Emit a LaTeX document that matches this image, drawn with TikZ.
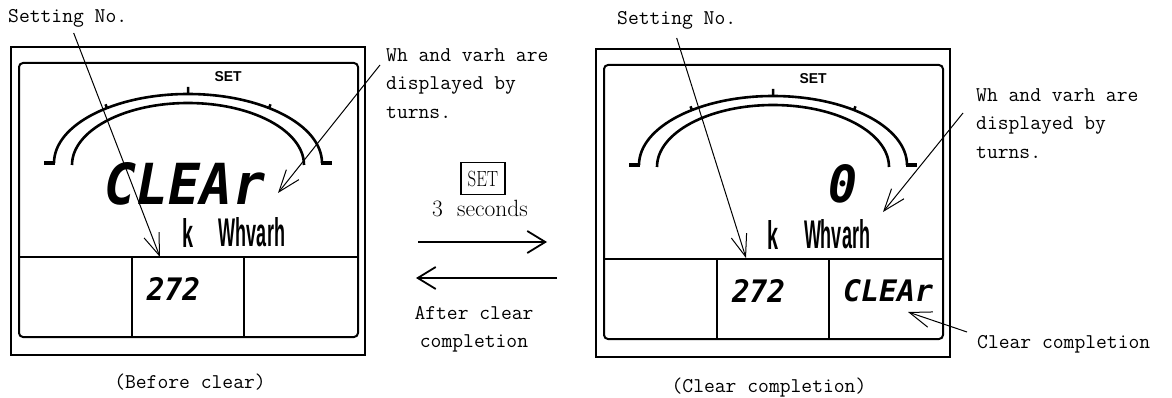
\documentclass[tikz,border=0pt]{standalone}
\usepackage{fontspec}
\usepackage{tikz}
\usetikzlibrary{arrows.meta,calc}
\usetikzlibrary{positioning}
\newfontfamily\segfont{DejaVu Sans Mono}
\newfontfamily\lcdfont{Liberation Sans}
\newcommand\seg[3]{\resizebox{#1pt}{#2pt}{\segfont\bfseries\itshape #3}}
\newcommand\lcd[3]{\resizebox{#1pt}{#2pt}{\lcdfont\bfseries #3}}

\begin{document}
\begin{tikzpicture}[x=1pt,y=-1pt,>=Stealth,
  every node/.style={inner sep=0pt},
  lbl/.style={font=\ttfamily\fontsize{21}{28.5}\selectfont,align=left},
  ptr/.style={-{Straight Barb[length=22pt,width=16pt]},line width=1pt},
  turn/.style={-{Straight Barb[length=18pt,width=22pt]},line width=1.8pt},
  frame/.style={line width=1.7pt},
  dial/.style={line width=2.6pt}]
\useasboundingbox (0,0) rectangle (1172,398);
% the two meter faces
\foreach \dx/\dy/\p in {0/0/L,585/2/R} {
  \begin{scope}[shift={(\dx,\dy)}]
  \draw[frame] (11,47) rectangle (365,355);
  \draw[frame,line width=2pt,rounded corners=4pt] (19,63) rectangle (358,337);
  \draw[frame,line width=2pt] (19,257) -- (358,257) (132,257) -- (132,337) (244,257) -- (244,337);
  \draw[dial] (54,163) arc[start angle=180,end angle=0,x radius=134pt,y radius=69pt];
  \draw[dial] (72,165) arc[start angle=180,end angle=0,x radius=116pt,y radius=62pt];
  \draw[line width=3.5pt] (44,163) -- (55,163) (321,163) -- (332,163);
  \draw[line width=2.5pt] (188,95) -- (188,87) (107,108) -- ++(-1.5,-3.7) (269,108) -- ++(1.5,-3.7);
  \node (set\p) at (228,77) {\lcd{27}{10}{SET}};
  \node (k\p) at (187.5,232.5) {\lcd{11}{29}{k}};
  \node (unit\p) at (252,232.5) {\lcd{66}{29}{Whvarh}};
  \node (no\p) at (173.5,288.5) {\seg{53}{23}{272}};
  \end{scope}}
\node (mainL) at (185,184) {\seg{160}{42}{CLEAr}};
\node (mainR) at (842.5,184) {\seg{29}{38}{0}};
\node (stateR) at (888,291) {\seg{90}{22}{CLEAr}};
% labels
\node[lbl,anchor=base west] (setnoL) at (8,23) {Setting No.};
\node[lbl,anchor=base west] (setnoR) at (617,25) {Setting No.};
\node[lbl,anchor=north west] (whL) at (386,48) {Wh and varh are\\displayed by\\turns.};
\node[lbl,anchor=north west] (whR) at (976,88) {Wh and varh are\\displayed by\\turns.};
\node[lbl,anchor=base west] (clrR) at (977,348) {Clear completion};
\node[lbl,anchor=base] (capL) at (190,388) {(Before clear)};
\node[lbl,anchor=base] (capR) at (769,392) {(Clear completion)};
% key operation
\node[draw,line width=1.6pt,inner xsep=6.5pt,inner ysep=8pt,font=\fontsize{22}{26}\selectfont] (setM) at (483,178.5) {\scalebox{0.77}[1]{SET}};
\node[font=\fontsize{23.5}{28}\selectfont,anchor=base] (secM) at (480,217) {3\ \ seconds};
\node[lbl,anchor=north,align=center] (afterM) at (474,306) {After clear\\completion};
\coordinate (fwdA) at (418,242);
\coordinate (fwdB) at (547,242);
\coordinate (backA) at (557,278);
\coordinate (backB) at (416,278);
\draw[turn] (fwdA) -- (fwdB);
\draw[turn] (backA) -- (backB);
% pointers
\coordinate (tipL1) at (160,257);
\coordinate (tipL2) at (278,193);
\coordinate (tipR1) at (746,258);
\coordinate (tipR2) at (883,212);
\coordinate (tipR3) at (908,312);
\draw[ptr] ($(setnoL.south)+(6,5)$) -- (tipL1);
\draw[ptr] ($(whL.north west)+(-6,17)$) -- (tipL2);
\draw[ptr] ($(setnoR.south)+(0,8)$) -- (tipR1);
\draw[ptr] ($(whR.north west)+(-13,25)$) -- (tipR2);
\draw[ptr] ($(clrR.base west)+(-10,-16)$) -- (tipR3);
\end{tikzpicture}
\end{document}
